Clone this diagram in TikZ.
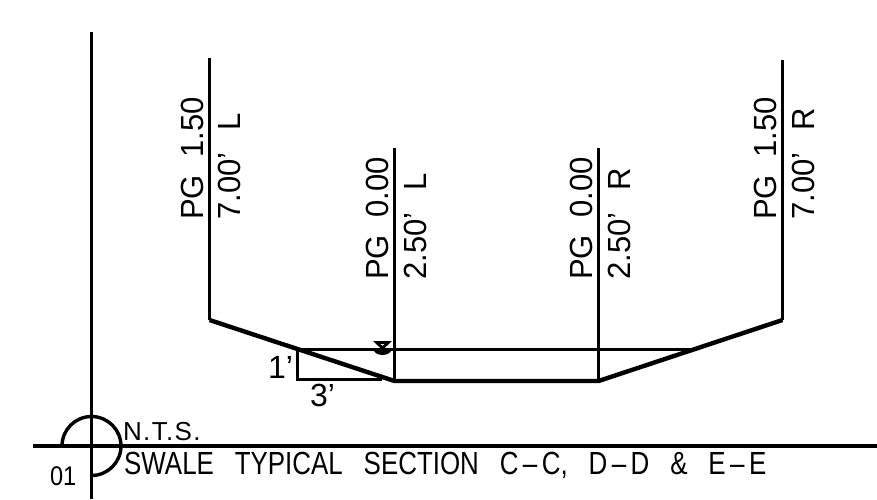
\documentclass[tikz,border=0pt]{standalone}
\usepackage{fontspec}
\setmainfont[WordSpace=2]{Liberation Sans}
\newfontfamily\titlefont[WordSpace=2.9]{Liberation Sans}
\newfontfamily\scalefont[LetterSpace=5]{Liberation Sans}
\newcommand{\dashpart}{\hspace{5.5pt}–\hspace{5.5pt}}
\tikzset{
  thickline/.style={line width=4.4pt},
  thinline/.style={line width=3pt},
  axisline/.style={line width=3.4pt},
  sectext/.style={inner sep=0pt,font=\fontsize{32}{32}\selectfont},
  pglabel/.style={sectext,rotate=90,xscale=.97,anchor=base west},
}
\begin{document}
\begin{tikzpicture}[x=1pt,y=-1pt]
    \useasboundingbox[fill=white] (0,0) rectangle (877,499);
    % points of the section
    \coordinate (topll) at (209.5,58);
    \coordinate (toplc) at (394.5,148);
    \coordinate (toprc) at (598.5,148);
    \coordinate (toprr) at (782.5,60);
    \coordinate (edgel) at (209.5,320);
    \coordinate (basel) at (394.5,381);
    \coordinate (baser) at (598.5,381);
    \coordinate (edger) at (782.5,320);
    \coordinate (waterl) at (297.5,349.5);
    \coordinate (waterr) at (692,349.5);
    \coordinate (slope) at (297.5,379);
    \coordinate (slopeb) at (382,379);
    \draw[thinline] (topll) -- (edgel);
    \draw[thinline] (toplc) -- (basel);
    \draw[thinline] (toprc) -- (baser);
    \draw[thinline] (toprr) -- (edger);
    \draw[thickline,line join=round] (edgel) -- (basel) -- (baser) -- (edger);
    \draw[thinline] (waterl) -- (waterr);
    \draw[thinline] (waterl) -- (slope) -- (slopeb);
    % water mark
    \fill (373,341) -- (392,341) -- (382.5,350) -- cycle;
    \fill (373.5,349) arc[start angle=180,end angle=0,x radius=9,y radius=6] -- cycle;
    \fill[white] (380.5,344) -- (384.5,344) -- (382.5,345.5) -- cycle;
    % title mark
    \coordinate (axtop) at (91.5,32);
    \coordinate (axbot) at (91.5,499);
    \coordinate (titl) at (33,446);
    \coordinate (titr) at (877,446);
    \draw[axisline] (axtop) -- (axbot);
    \draw[axisline] (titl) -- (titr);
    \draw[axisline] (62,446) arc[start angle=180,end angle=450,radius=29.5];
    % labels
    \node[pglabel] (pgll) at (203,220) {PG 1.50};
    \node[pglabel] (offll) at (240,220) {7.00’\, L};
    \node[pglabel] (pglc) at (388,280) {PG 0.00};
    \node[pglabel] (offlc) at (426,280) {2.50’\, L};
    \node[pglabel] (pgrc) at (592,280) {PG 0.00};
    \node[pglabel] (offrc) at (630,280) {2.50’\, R};
    \node[pglabel] (pgrr) at (776,220) {PG 1.50};
    \node[pglabel] (offrr) at (814,220) {7.00’\, R};
    \node[sectext,anchor=base west] (riseval) at (268,378) {1’};
    \node[sectext,anchor=base west] (runval) at (310,406) {3’};
    \node[sectext,anchor=base west,font=\fontsize{26}{26}\scalefont] (scale) at (123,440) {N.T.S.};
    \node[sectext,anchor=base west,xscale=.87,font=\fontsize{27}{27}\selectfont] (sheet) at (50,485) {01};
    \node[sectext,anchor=base west,xscale=.81,font=\fontsize{32}{32}\titlefont] (title) at (124,474) {SWALE TYPICAL SECTION C\dashpart C, D\dashpart D \& E\dashpart E};
  \end{tikzpicture}
\end{document}
